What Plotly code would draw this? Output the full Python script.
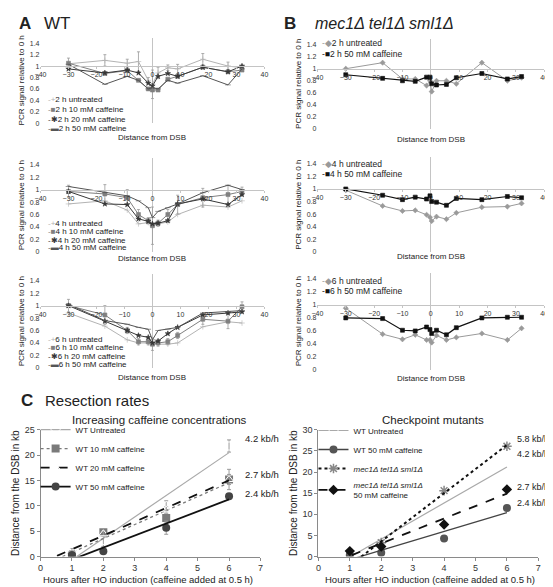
import numpy as np
import plotly.graph_objects as go

W, H = 553, 587
FONT = "Liberation Sans, Arial, sans-serif"

# ---------------- data ----------------
dist_A = [-30, -17, -9, -5, -1.5, 0, 2, 5.5, 9, 18, 27, 32]
A1_untreated = [1.04, 1.10, 1.05, 1.08, 0.75, 0.68, 0.88, 0.97, 0.95, 1.12, 1.00, 0.97]
A1_10mM = [1.05, 0.87, 0.92, 0.75, 0.60, 0.58, 0.58, 0.77, 0.82, 0.98, 0.90, 0.93]
A1_20mM = [0.95, 0.88, 0.93, 0.88, 0.70, 0.65, 0.82, 0.87, 0.82, 0.98, 0.90, 1.00]
A1_50mM = [1.03, 0.68, 0.82, 0.75, 0.60, 0.62, 0.60, 0.75, 0.70, 0.83, 0.67, 0.95]
A1_err = [0.10, 0.10, 0.07, 0.17, 0.05, 0.25, 0.10, 0.05, 0.08, 0.10, 0.07, 0.05]

A2_untreated = [0.77, 0.82, 0.67, 0.45, 0.47, 0.42, 0.45, 0.48, 0.60, 0.75, 0.72, 0.82]
A2_10mM = [0.97, 0.93, 0.87, 0.60, 0.50, 0.42, 0.46, 0.60, 0.76, 0.87, 0.92, 0.97]
A2_20mM = [0.97, 0.77, 0.76, 0.53, 0.49, 0.45, 0.46, 0.50, 0.77, 0.85, 0.76, 0.92]
A2_50mM = [1.05, 0.95, 0.90, 0.82, 0.71, 0.55, 0.65, 0.71, 0.77, 0.95, 1.07, 1.00]
A2_err = [0.10, 0.15, 0.13, 0.08, 0.05, 0.30, 0.05, 0.08, 0.15, 0.15, 0.15, 0.07]

A3_untreated = [0.88, 0.67, 0.45, 0.40, 0.40, 0.38, 0.38, 0.38, 0.40, 0.66, 0.74, 0.72]
A3_10mM = [1.00, 0.85, 0.60, 0.42, 0.42, 0.38, 0.40, 0.42, 0.52, 0.78, 0.75, 0.98]
A3_20mM = [1.00, 0.75, 0.60, 0.52, 0.49, 0.40, 0.43, 0.55, 0.65, 0.85, 0.88, 0.90]
A3_50mM = [1.02, 0.76, 0.70, 0.65, 0.62, 0.45, 0.60, 0.62, 0.65, 0.88, 0.90, 0.92]
A3_err = [0.10, 0.15, 0.05, 0.05, 0.05, 0.10, 0.05, 0.05, 0.05, 0.08, 0.12, 0.08]

dist_B = [-30, -17, -10, -5.5, -1.5, -0.3, 0.3, 2, 5.5, 9, 18, 27, 32]
B1_untreated = [1.00, 1.10, 0.83, 0.83, 0.72, 0.80, 0.62, 0.80, 0.80, 0.75, 1.10, 0.80, 0.85]
B1_50mM = [0.90, 0.84, 0.80, 0.79, 0.86, 0.86, 0.75, 0.73, 0.74, 0.85, 0.92, 0.83, 0.87]
B2_untreated = [0.98, 0.73, 0.65, 0.66, 0.59, 0.55, 0.49, 0.56, 0.52, 0.62, 0.71, 0.72, 0.77]
B2_50mM = [1.00, 0.90, 0.83, 0.87, 0.84, 0.89, 0.80, 0.79, 0.74, 0.85, 0.83, 0.88, 0.86]
B3_untreated = [0.95, 0.55, 0.47, 0.54, 0.46, 0.46, 0.42, 0.53, 0.46, 0.50, 0.56, 0.46, 0.64]
B3_50mM = [0.80, 0.79, 0.61, 0.60, 0.66, 0.62, 0.56, 0.61, 0.54, 0.65, 0.80, 0.81, 0.81]

hours = [1, 2, 4, 6]
CL_untreated = [0.5, 3.2, 10.0, 21.8]
CL_untreated_err = [0.4, 1.2, 1.0, 1.2]
CL_10mM = [0.43, 4.8, 7.6, 15.2]
CL_10mM_err = [0.3, 0.5, 0.8, 2.0]
CL_20mM = [1.3, 4.5, 9.2, 15.2]
CL_20mM_err = [0.3, 0.5, 0.6, 1.0]
CL_50mM = [0.3, 1.06, 5.7, 11.9]
CL_50mM_err = [0.2, 0.3, 1.3, 0.4]
CL_rates = ["4.2 kb/h", "2.7 kb/h", "2.4 kb/h"]

CR_untreated = [0.5, 5.0, 9.4, 23.0]
CR_50mM = [0.4, 0.9, 4.3, 11.5]
CR_mec1 = [None, 3.3, 15.6, 26.1]
CR_mec1_50mM = [1.3, 2.4, 7.6, 15.9]
CR_rates = ["5.8 kb/h", "4.2 kb/h", "2.7 kb/h", "2.4 kb/h"]

x_ticks_A = [-40, -30, -20, -10, 0, 10, 20, 30, 40]

# ---------------- helpers ----------------
def xd(l, r):
    return [l / W, r / W]

def yd(top, bottom):
    return [1 - bottom / H, 1 - top / H]

def px(x):
    return x / W

def py(y):
    return 1 - y / H

fig = go.Figure()
layout = dict(
    width=W, height=H, margin=dict(l=0, r=0, t=0, b=0),
    paper_bgcolor="white", plot_bgcolor="rgba(0,0,0,0)",
    font=dict(family=FONT, color="#222", size=8),
    showlegend=True, annotations=[],
)

GRID_AX = "#c4c4c4"

small_panels = [
    (1, (27, 255), (25, 112)),
    (2, (27, 255), (148, 243)),
    (3, (27, 255), (266, 361)),
    (4, (309, 540), (26, 118)),
    (5, (309, 540), (147, 243)),
    (6, (309, 540), (264, 363)),
]
YMAX = 1.5
for idx, (l, r), (t, b) in small_panels:
    ydom = yd(t, b)
    pos = ydom[0] + (ydom[1] - ydom[0]) * (1.0 / YMAX)
    sfx = "" if idx == 1 else str(idx)
    layout["xaxis" + sfx] = dict(
        domain=xd(l, r), range=[-40, 40], tickvals=x_ticks_A,
        anchor="free", position=pos, showline=True, linecolor=GRID_AX, linewidth=1,
        zeroline=True, zerolinecolor=GRID_AX, zerolinewidth=1, showgrid=False,
        ticks="outside", ticklen=2, tickcolor=GRID_AX, tickfont=dict(size=7, color="#333"),
    )
    layout["yaxis" + sfx] = dict(
        domain=ydom, range=[0, YMAX], tick0=0, dtick=0.2, anchor="x" + sfx,
        showline=False, zeroline=False, showgrid=False, ticks="",
        tickfont=dict(size=7, color="#333"),
        title=dict(text="PCR signal relative to 0 h", font=dict(size=8, color="#222"), standoff=3),
    )

def ab_trace(idx, x, y, color, symbol, size, err=None, lw=1.0):
    sfx = "" if idx == 1 else str(idx)
    kw = {}
    if err is not None:
        kw["error_y"] = dict(type="data", array=err, visible=True, color="#9a9a9a",
                             thickness=0.8, width=1.5)
    fig.add_trace(go.Scatter(
        x=x, y=y, mode="lines+markers", xaxis="x" + sfx, yaxis="y" + sfx,
        line=dict(color=color, width=lw),
        marker=dict(symbol=symbol, size=size, color=color, line=dict(width=0.6, color=color)),
        showlegend=False, **kw))

C_UNT = "#b3b3b3"
C_10 = "#808080"
C_20 = "#383838"
C_50 = "#555555"

for idx, unt, m10, m20, m50, err in [
    (1, A1_untreated, A1_10mM, A1_20mM, A1_50mM, A1_err),
    (2, A2_untreated, A2_10mM, A2_20mM, A2_50mM, A2_err),
    (3, A3_untreated, A3_10mM, A3_20mM, A3_50mM, A3_err),
]:
    ab_trace(idx, dist_A, unt, C_UNT, "cross-thin-open", 4, err if idx == 1 else None)
    ab_trace(idx, dist_A, m10, C_10, "square", 4, err if idx != 1 else None)
    ab_trace(idx, dist_A, m20, C_20, "star", 4)
    ab_trace(idx, dist_A, m50, C_50, "line-ew-open", 4)

for idx, unt, m50 in [
    (4, B1_untreated, B1_50mM),
    (5, B2_untreated, B2_50mM),
    (6, B3_untreated, B3_50mM),
]:
    ab_trace(idx, dist_B, unt, "#9a9a9a", "diamond", 4, lw=1.0)
    ab_trace(idx, dist_B, m50, "#111111", "square", 4, lw=1.2)

ann = layout["annotations"]

def text(x, y, s, size=8, xanchor="left", yanchor="middle", textangle=0, color="#222"):
    ann.append(dict(x=px(x), y=py(y), xref="paper", yref="paper", text=s, showarrow=False,
                    xanchor=xanchor, yanchor=yanchor, textangle=textangle,
                    font=dict(size=size, color=color, family=FONT)))

# headers
text(3, 11, "<b>A</b>", size=17)
text(29, 11, "WT", size=17)
text(273, 11, "<b>B</b>", size=17)
text(305, 11, "<i>mec1Δ tel1Δ sml1Δ</i>", size=16)
text(5, 394, "<b>C</b>", size=17)
text(30, 394, "Resection rates", size=15)

# x titles A/B
for cy in (127, 250, 371):
    text(141, cy, "Distance from DSB", size=8, xanchor="center")
for cy in (129, 248, 372):
    text(425, cy, "Distance from DSB", size=8, xanchor="center")

# legends A/B (compact, like the original)
A_legend_labels = ["untreated", "10 mM caffeine", "20 mM caffeine", "50 mM caffeine"]
A_legend_glyph = [("-+", C_UNT), ("-■", C_10), ("-✱", C_20), ("-▬", C_50)]
for hlabel, ys in [("2 h", (88, 98, 108, 117)), ("4 h", (214, 222, 231, 239)), ("6 h", (332, 340, 349, 358))]:
    for (g, c), lab, yy in zip(A_legend_glyph, A_legend_labels, ys):
        text(33, yy, f"<span style='color:{c}'>{g}</span>{hlabel} {lab}", size=8)
for hlabel, ys in [("2 h", (31, 42)), ("4 h", (154, 164)), ("6 h", (273, 283))]:
    text(312, ys[0], f"<span style='color:#9a9a9a'>-◆</span>{hlabel} untreated", size=8.5)
    text(312, ys[1], f"<span style='color:#111'>-■</span>{hlabel} 50 mM caffeine", size=8.5)

# ---------------- panel C ----------------
CAX = "#8a8a8a"
for sfx, (l, r), (t, b), ymax in [("7", (27, 251), (424, 553), 25), ("8", (310, 534), (424, 553), 30)]:
    layout["xaxis" + sfx] = dict(domain=xd(l, r), range=[0, 7], dtick=1, anchor="y" + sfx,
                                 showline=True, linecolor=CAX, linewidth=1, ticks="outside",
                                 ticklen=3, tickcolor=CAX, showgrid=False, zeroline=False,
                                 tickfont=dict(size=9, color="#333"))
    layout["yaxis" + sfx] = dict(domain=yd(t, b), range=[0, ymax], dtick=5, anchor="x" + sfx,
                                 showline=True, linecolor=CAX, linewidth=1, ticks="outside",
                                 ticklen=3, tickcolor=CAX, showgrid=False, zeroline=False,
                                 tickfont=dict(size=9, color="#333"),
                                 title=dict(text="Distance from the DSB in kb",
                                            font=dict(size=10, color="#222"), standoff=3))

xfit = np.array([0.0, 6.0])

def c_series(sfx, legend, name, y, err, mcol, msym, msize, lcol, ldash, lwidth, mline=None):
    xs = np.array(hours, dtype=float)
    ys = np.array([np.nan if v is None else v for v in y], dtype=float)
    ok = ~np.isnan(ys)
    slope, icpt = np.polyfit(xs[ok], ys[ok], 1)
    mk = dict(symbol=msym, size=msize, color=mcol,
              line=mline if mline else dict(width=0))
    kw = {}
    if err is not None:
        kw["error_y"] = dict(type="data", array=err, visible=True, color="#9a9a9a",
                             thickness=1, width=2)
    fig.add_trace(go.Scatter(x=hours, y=y, mode="markers", marker=mk, xaxis="x" + sfx,
                             yaxis="y" + sfx, showlegend=False, **kw))
    fig.add_trace(go.Scatter(x=xfit, y=slope * xfit + icpt, mode="lines", xaxis="x" + sfx,
                             yaxis="y" + sfx, line=dict(color=lcol, dash=ldash, width=lwidth),
                             showlegend=False, hoverinfo="skip"))
    fig.add_trace(go.Scatter(x=[None], y=[None], mode="lines+markers", name=name, legend=legend,
                             marker=mk, line=dict(color=lcol, dash=ldash, width=lwidth),
                             xaxis="x" + sfx, yaxis="y" + sfx))

c_series("7", "legend", "WT Untreated", CL_untreated, CL_untreated_err, "white", "diamond-open", 7,
         "#a9a9a9", "solid", 1.2, dict(width=1, color="#b8b8b8"))
c_series("7", "legend", "WT 10 mM caffeine", CL_10mM, CL_10mM_err, "#7a7a7a", "square", 8,
         "#7a7a7a", "dot", 1.3)
c_series("7", "legend", "WT 20 mM caffeine", CL_20mM, CL_20mM_err, "white", "triangle-up-open", 8,
         "#111111", "dash", 1.8, dict(width=1, color="#b8b8b8"))
c_series("7", "legend", "WT 50 mM caffeine", CL_50mM, CL_50mM_err, "#444444", "circle", 8,
         "#111111", "solid", 1.8)

c_series("8", "legend2", "WT Untreated", CR_untreated, None, "white", "diamond-open", 7,
         "#a9a9a9", "solid", 1.2, dict(width=1, color="#b8b8b8"))
c_series("8", "legend2", "WT 50 mM caffeine", CR_50mM, None, "#555555", "circle", 8,
         "#444444", "solid", 1.3)
c_series("8", "legend2", "<i>mec1Δ tel1Δ sml1Δ</i>", CR_mec1, None, "#888888", "asterisk-open", 8,
         "#111111", "dot", 2.0, dict(width=1.5, color="#888888"))
c_series("8", "legend2", "<i>mec1Δ tel1Δ sml1Δ</i><br>50 mM caffeine", CR_mec1_50mM, None,
         "#111111", "diamond", 8, "#111111", "dash", 1.8)

legend_common = dict(bgcolor="rgba(0,0,0,0)", borderwidth=0, font=dict(size=8, family=FONT, color="#222"),
                     xanchor="left", yanchor="top", tracegroupgap=0, itemwidth=30)
layout["legend"] = dict(x=px(22), y=py(409), **legend_common)
layout["legend2"] = dict(x=px(305), y=py(410), **legend_common)

# panel C titles
text(148, 414, "Increasing caffeine concentrations", size=11.5, xanchor="center")
text(427, 414, "Checkpoint mutants", size=11.5, xanchor="center")
text(136, 576, "Hours after HO induction (caffeine added at 0.5 h)", size=9.5, xanchor="center")
text(424, 576, "Hours after HO induction (caffeine added at 0.5 h)", size=9.5, xanchor="center")

for lab, yy in zip(CL_rates, (433, 470, 489)):
    text(233, yy, lab, size=9.5)
for lab, yy in zip(CR_rates, (433, 449, 482, 499)):
    text(510, yy, lab, size=9)

fig.update_layout(**layout)
fig.write_html("out.html")
